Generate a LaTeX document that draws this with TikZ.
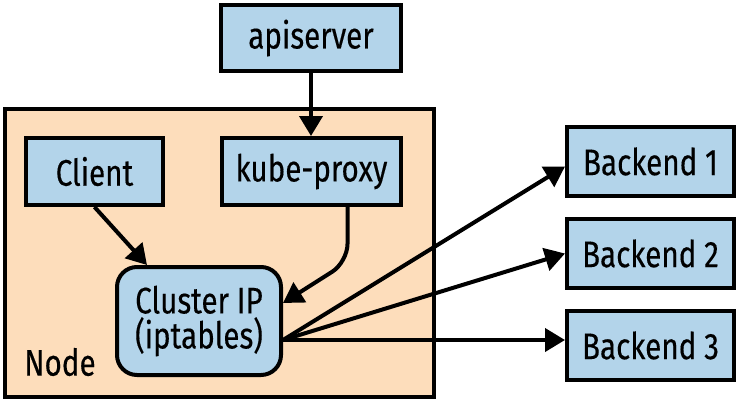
\documentclass[tikz,border=0pt]{standalone}
\usepackage{fontspec}
\setmainfont[FakeStretch=0.8,FakeBold=0.3]{Fira Sans}
\usetikzlibrary{arrows.meta}
\definecolor{boxblue}{RGB}{179,212,234}
\definecolor{peach}{RGB}{253,221,187}
\begin{document}
\begin{tikzpicture}[x=1pt,y=-1pt,
  box/.style={draw=black, fill=boxblue, line width=4pt, inner sep=0pt,
    font=\fontsize{37}{35}\selectfont, align=center},
  arr/.style={line width=4pt, -{Triangle[length=20pt,width=23pt]}},
  lbl/.style={font=\fontsize{37}{35}\selectfont, inner sep=0pt}]
\useasboundingbox (0,0) rectangle (738,405);
\node[draw=black, fill=peach, line width=4pt, minimum width=429pt, minimum height=288pt, inner sep=0pt] (node) at (219.5,253) {};
\node[lbl] (nodelbl) at (60,362) {Node};
\node[box, minimum width=180pt, minimum height=66pt] (api) at (311,38) {apiserver};
\node[box, minimum width=137pt, minimum height=67pt] (cl) at (94.5,171.5) {Client};
\node[box, minimum width=179pt, minimum height=67pt] (kp) at (311.5,171.5) {kube-proxy};
\node[box, rounded corners=20pt, minimum width=164pt, minimum height=108pt] (cip) at (199,321) {Cluster IP\\(iptables)};
\node[box, minimum width=167pt, minimum height=69pt] (b1) at (650.5,161.5) {Backend 1};
\node[box, minimum width=167pt, minimum height=69pt] (b2) at (650.5,253.5) {Backend 2};
\node[box, minimum width=167pt, minimum height=69pt] (b3) at (650.5,345.5) {Backend 3};
\coordinate (src) at ([yshift=-19pt]cip.east);
\draw[arr] (api.south) -- (kp.north -| api.south);
\draw[arr] (cl.south) -- ([xshift=-52pt]cip.north);
\draw[arr, rounded corners=18pt] ([xshift=36pt]kp.south) -- ([xshift=36pt,yshift=-55pt]kp.south) -- ([yshift=18pt]cip.east);
\draw[arr] (src) -- ([yshift=-5pt]b1.west);
\draw[arr] (src) -- (b2.west);
\draw[arr] (src) -- (src -| b3.west);
\end{tikzpicture}
\end{document}
